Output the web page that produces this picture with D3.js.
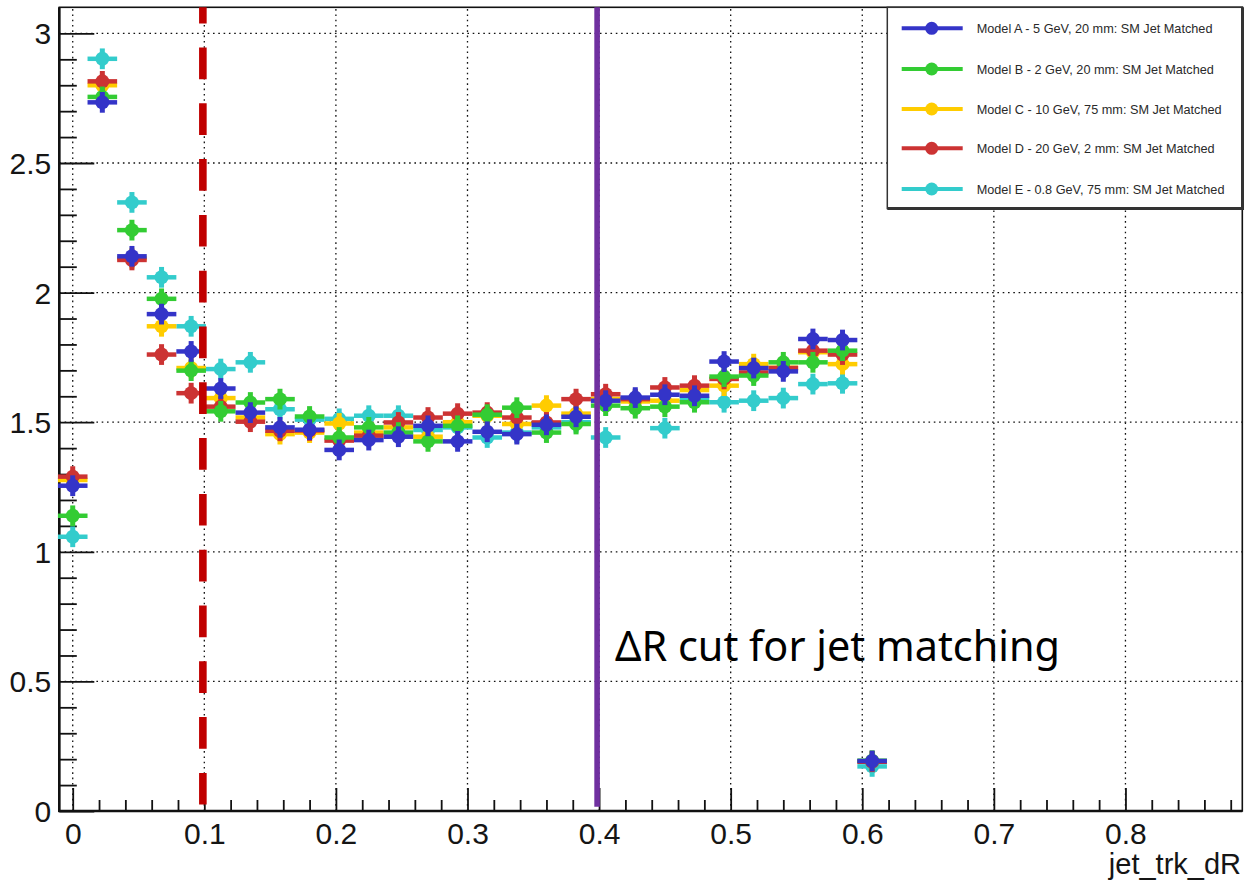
<!DOCTYPE html>
<html>
<head>
<meta charset="utf-8">
<script src="https://cdn.jsdelivr.net/npm/d3@7"></script>
<style>
  html, body { margin: 0; padding: 0; background: #fff; }
  svg { display: block; }
</style>
</head>
<body>
<svg id="chart" width="1246" height="886"></svg>
<script>
// ---------- data ----------
const binCenters = [0, 0.0225, 0.045, 0.0675, 0.09, 0.1125, 0.135, 0.1575, 0.18, 0.2025,
  0.225, 0.2475, 0.27, 0.2925, 0.315, 0.3375, 0.36, 0.3825, 0.405, 0.4275,
  0.45, 0.4725, 0.495, 0.5175, 0.54, 0.5625, 0.585, 0.6075];
const binWidth = 0.0225;
const yErr = 0.04;

const seriesNames = [
  "Model A - 5 GeV, 20 mm: SM Jet Matched",
  "Model B - 2 GeV, 20 mm: SM Jet Matched",
  "Model C - 10 GeV, 75 mm: SM Jet Matched",
  "Model D - 20 GeV, 2 mm: SM Jet Matched",
  "Model E - 0.8 GeV, 75 mm: SM Jet Matched"
];
const seriesColors = ["#3434c8", "#33cc33", "#ffcc00", "#cc3333", "#33cccc"];

const modelA = [1.255, 2.734, 2.140, 1.917, 1.773, 1.630, 1.537, 1.480, 1.471, 1.393,
  1.431, 1.444, 1.486, 1.426, 1.463, 1.454, 1.490, 1.521, 1.583, 1.595,
  1.606, 1.602, 1.734, 1.709, 1.696, 1.821, 1.817, 0.193];
const modelB = [1.139, 2.755, 2.241, 1.976, 1.699, 1.542, 1.576, 1.589, 1.522, 1.441,
  1.480, 1.460, 1.426, 1.486, 1.529, 1.556, 1.460, 1.493, 1.564, 1.554,
  1.560, 1.577, 1.676, 1.680, 1.731, 1.731, 1.776, 0.194];
const modelC = [1.277, 2.800, 2.133, 1.870, 1.709, 1.593, 1.518, 1.454, 1.460, 1.495,
  1.460, 1.480, 1.444, 1.500, 1.525, 1.493, 1.564, 1.533, 1.590, 1.580,
  1.583, 1.624, 1.641, 1.724, 1.710, 1.770, 1.724, 0.192];
const modelD = [1.290, 2.815, 2.126, 1.761, 1.612, 1.560, 1.502, 1.467, 1.468, 1.429,
  1.448, 1.499, 1.518, 1.533, 1.537, 1.518, 1.499, 1.589, 1.608, 1.589,
  1.634, 1.641, 1.667, 1.692, 1.709, 1.776, 1.761, 0.190];
const modelE = [1.058, 2.902, 2.348, 2.059, 1.870, 1.705, 1.731, 1.550, 1.510, 1.513,
  1.525, 1.525, 1.470, 1.480, 1.441, 1.460, 1.480, 1.500, 1.441, 1.585,
  1.477, 1.590, 1.577, 1.583, 1.593, 1.647, 1.650, 0.172];
const seriesValues = [modelA, modelB, modelC, modelD, modelE];
const drawOrder = [4, 2, 3, 1, 0];

const xTickValues = [0, 0.1, 0.2, 0.3, 0.4, 0.5, 0.6, 0.7, 0.8];
const xTickLabels = ["0", "0.1", "0.2", "0.3", "0.4", "0.5", "0.6", "0.7", "0.8"];
const yTickValues = [0, 0.5, 1, 1.5, 2, 2.5, 3];
const yTickLabels = ["0", "0.5", "1", "1.5", "2", "2.5", "3"];
const xTitle = "jet_trk_dR";

const cutLooseX = 0.0989;   // red dashed line
const cutJetX = 0.3985;     // purple line
const cutLabel = "\u0394R cut for jet matching";

// ---------- layout ----------
const frame = { left: 59.3, right: 1242.3, top: 7.3, bottom: 811 };
const x = d3.scaleLinear().domain([-0.0102, 0.8888]).range([frame.left, frame.right]);
const y = d3.scaleLinear().domain([0, 3.1007]).range([frame.bottom, frame.top]);

const svg = d3.select("#chart");
svg.append("rect").attr("width", 1246).attr("height", 886).attr("fill", "#fff");

const FONT = "'Liberation Sans', Arial, Helvetica, sans-serif";

// grid
const grid = svg.append("g").attr("stroke", "#111").attr("stroke-width", 1.3)
  .attr("stroke-dasharray", "1.6,3.7");
grid.selectAll("line.gx").data(xTickValues).join("line")
  .attr("x1", d => x(d)).attr("x2", d => x(d))
  .attr("y1", frame.bottom).attr("y2", frame.top);
grid.selectAll("line.gy").data(yTickValues.filter(v => v > 0)).join("line")
  .attr("x1", frame.left).attr("x2", frame.right)
  .attr("y1", d => y(d)).attr("y2", d => y(d));

// axes
const xMinor = d3.range(0, 0.881, 0.02).filter(v => Math.abs(v * 10 - Math.round(v * 10)) > 1e-6);
const yMinor = d3.range(0, 3.09, 0.1).filter(v => Math.abs(v * 2 - Math.round(v * 2)) > 1e-6);

const xAxis = d3.axisBottom(x).tickValues(xTickValues)
  .tickFormat((d, i) => xTickLabels[i]).tickSizeInner(-23).tickSizeOuter(0).tickPadding(12);
const gx = svg.append("g").attr("transform", `translate(0,${frame.bottom})`).call(xAxis);
svg.append("g").attr("transform", `translate(0,${frame.bottom})`)
  .call(d3.axisBottom(x).tickValues(xMinor).tickFormat("").tickSizeInner(-11).tickSizeOuter(0));

const yAxis = d3.axisLeft(y).tickValues(yTickValues)
  .tickFormat((d, i) => yTickLabels[i]).tickSizeInner(-35).tickSizeOuter(0).tickPadding(8);
const gy = svg.append("g").attr("transform", `translate(${frame.left},0)`).call(yAxis);
svg.append("g").attr("transform", `translate(${frame.left},0)`)
  .call(d3.axisLeft(y).tickValues(yMinor).tickFormat("").tickSizeInner(-17.5).tickSizeOuter(0));

svg.selectAll(".domain").remove();
svg.selectAll(".tick line").attr("stroke", "#111").attr("stroke-width", 1.8);
gx.selectAll("text").attr("font-family", FONT).attr("font-size", 30).attr("fill", "#151515");
gy.selectAll("text").attr("font-family", FONT).attr("font-size", 30).attr("fill", "#151515")
  .attr("dy", "0.35em");

// frame
svg.append("rect").attr("x", frame.left).attr("y", frame.top)
  .attr("width", frame.right - frame.left).attr("height", frame.bottom - frame.top)
  .attr("fill", "none").attr("stroke", "#111").attr("stroke-width", 1.6);
svg.append("line").attr("x1", frame.left).attr("x2", frame.left)
  .attr("y1", frame.top).attr("y2", frame.bottom + 1).attr("stroke", "#111").attr("stroke-width", 2.6);
svg.append("line").attr("x1", frame.left - 1).attr("x2", frame.right)
  .attr("y1", frame.bottom).attr("y2", frame.bottom).attr("stroke", "#111").attr("stroke-width", 2.6);

// axis title
svg.append("text").attr("x", 1241).attr("y", 874).attr("text-anchor", "end")
  .attr("font-family", FONT).attr("font-size", 29).attr("fill", "#151515").text(xTitle);

// series
drawOrder.forEach(si => {
  const g = svg.append("g").attr("stroke", seriesColors[si]).attr("fill", seriesColors[si]);
  const pts = binCenters.map((c, i) => ({ c, v: seriesValues[si][i] }));
  g.selectAll("line.h").data(pts).join("line")
    .attr("x1", d => x(d.c - binWidth / 2)).attr("x2", d => x(d.c + binWidth / 2))
    .attr("y1", d => y(d.v)).attr("y2", d => y(d.v)).attr("stroke-width", 4.5);
  g.selectAll("line.v").data(pts).join("line")
    .attr("x1", d => x(d.c)).attr("x2", d => x(d.c))
    .attr("y1", d => y(d.v - yErr)).attr("y2", d => y(d.v + yErr)).attr("stroke-width", 5);
  g.selectAll("circle").data(pts).join("circle")
    .attr("cx", d => x(d.c)).attr("cy", d => y(d.v)).attr("r", 7).attr("stroke", "none");
});

// cut lines
svg.append("line").attr("x1", x(cutLooseX)).attr("x2", x(cutLooseX))
  .attr("y1", frame.top).attr("y2", 806.8)
  .attr("stroke", "#c00000").attr("stroke-width", 7.6)
  .attr("stroke-dasharray", "31.7,24.1").attr("stroke-dashoffset", 15.6);
svg.append("line").attr("x1", x(cutJetX)).attr("x2", x(cutJetX))
  .attr("y1", frame.top).attr("y2", 806.8)
  .attr("stroke", "#7030a0").attr("stroke-width", 5.6);
svg.append("text").attr("x", 615).attr("y", 661)
  .attr("font-family", "'Noto Sans', 'Open Sans', sans-serif").attr("font-size", 42)
  .attr("textLength", 445).attr("lengthAdjust", "spacingAndGlyphs")
  .attr("fill", "#000").text(cutLabel);

// legend
const leg = { x0: 887.3, y0: 7.3, x1: 1242.5, y1: 208.5 };
svg.append("rect").attr("x", leg.x0).attr("y", leg.y0)
  .attr("width", leg.x1 - leg.x0).attr("height", leg.y1 - leg.y0)
  .attr("fill", "#fff").attr("stroke", "#333").attr("stroke-width", 1.5);
svg.append("polyline")
  .attr("points", `${leg.x0},${leg.y1} ${leg.x1},${leg.y1} ${leg.x1},${leg.y0}`)
  .attr("fill", "none").attr("stroke", "#333").attr("stroke-width", 3);
const rowY = [28.3, 69, 109, 148.3, 189];
seriesNames.forEach((name, i) => {
  const g = svg.append("g");
  g.append("line").attr("x1", 901.7).attr("x2", 962.7).attr("y1", rowY[i]).attr("y2", rowY[i])
    .attr("stroke", seriesColors[i]).attr("stroke-width", 4);
  g.append("circle").attr("cx", 931.7).attr("cy", rowY[i]).attr("r", 6.5).attr("fill", seriesColors[i]);
  g.append("text").attr("x", 976.7).attr("y", rowY[i]).attr("dy", "0.36em")
    .attr("font-family", FONT).attr("font-size", 12.7).attr("fill", "#2a2a2a").text(name);
});
</script>
</body>
</html>
